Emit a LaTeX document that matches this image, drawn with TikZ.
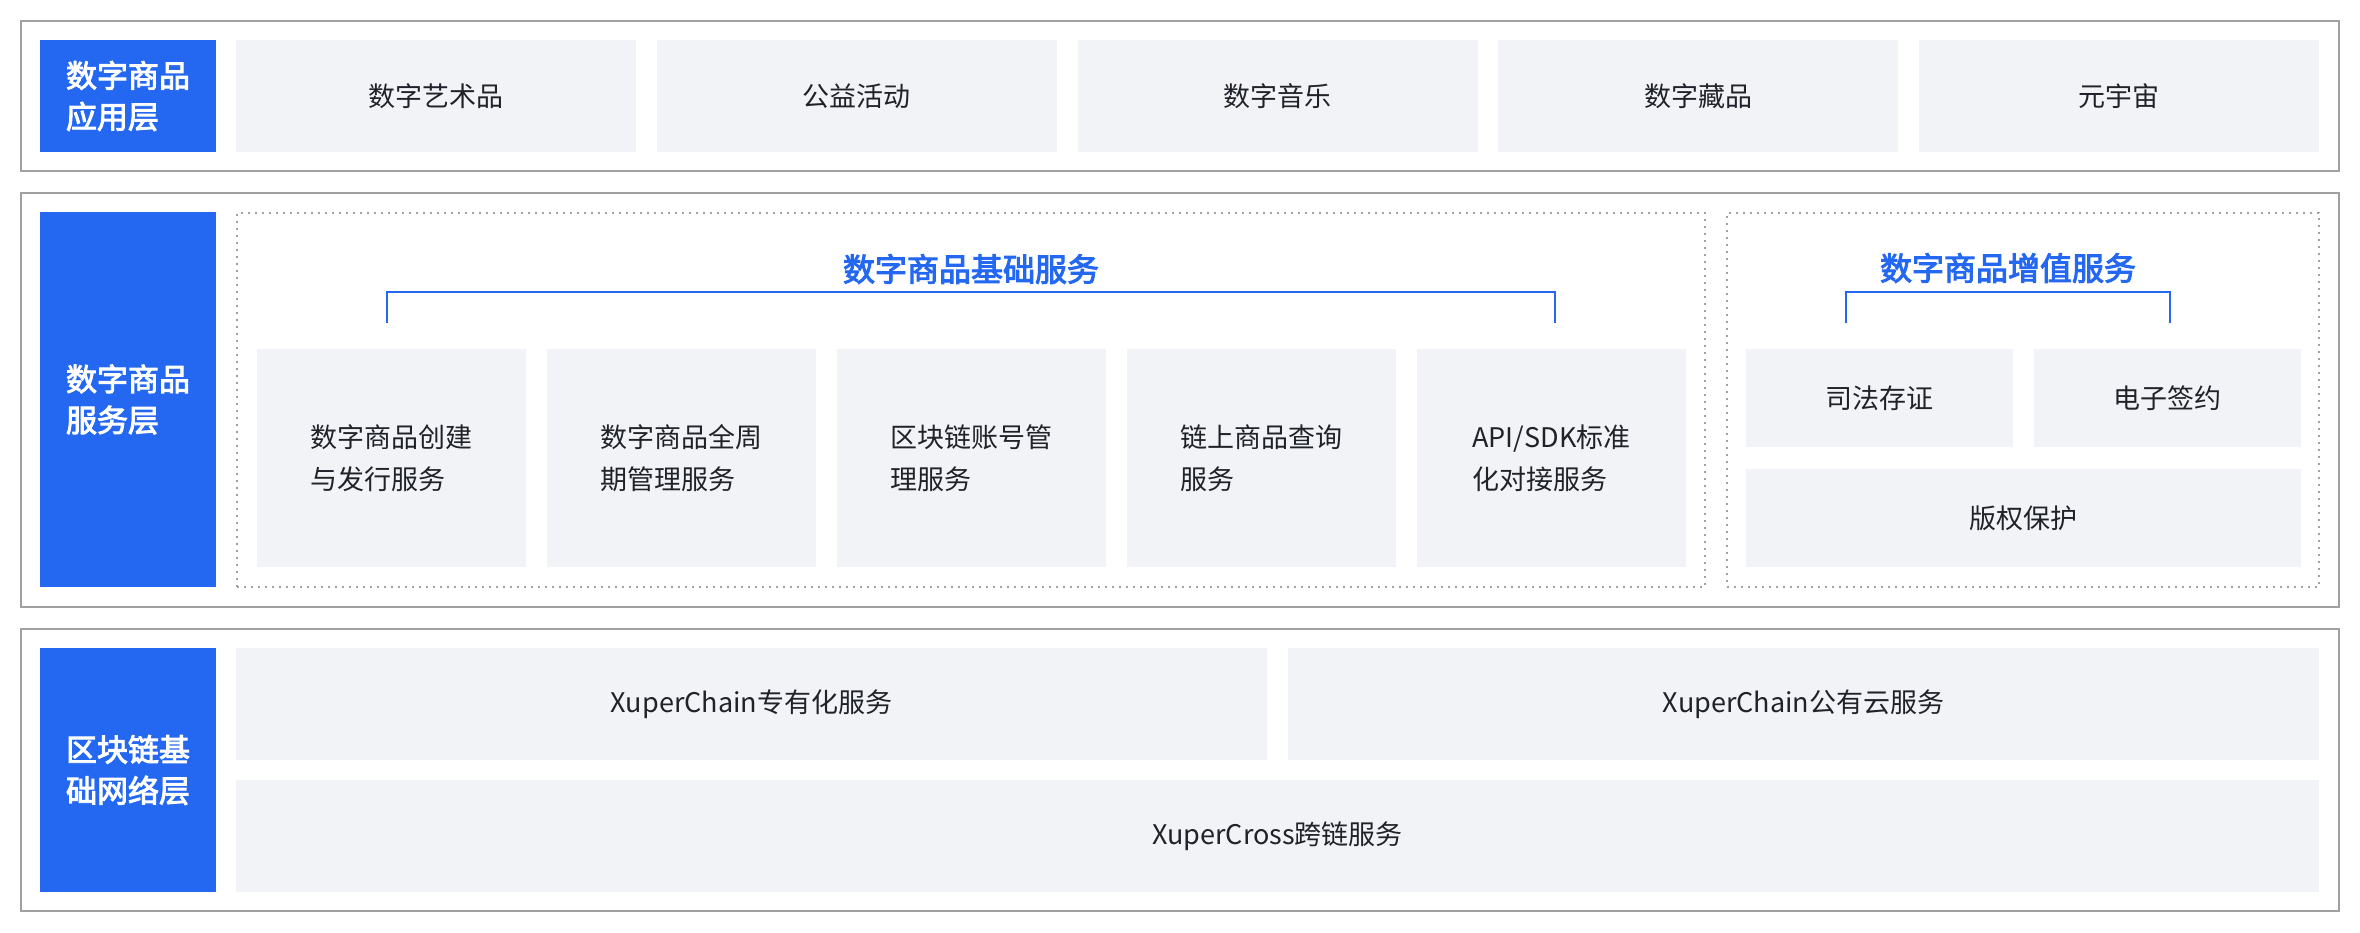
\documentclass[tikz,border=0pt]{standalone}
\usepackage{fontspec}
\setmainfont{Noto Sans CJK SC}
\newfontfamily\medfont[FakeBold=3]{Noto Sans CJK SC}
\definecolor{bblue}{HTML}{2468F2}
\definecolor{cellgray}{HTML}{F2F3F7}
\definecolor{framegray}{HTML}{A0A0A0}
\definecolor{dotgray}{HTML}{9CA0A8}
\definecolor{txt}{HTML}{1F2329}
\newcommand{\lblfont}{\fontsize{31pt}{41pt}\selectfont\medfont}
\newcommand{\cellfont}{\fontsize{27pt}{42pt}\selectfont}
\newcommand{\ttlfont}{\fontsize{32pt}{40pt}\selectfont\medfont}
\begin{document}
\begin{tikzpicture}[x=1pt,y=-1pt,
  outerframe/.style={draw=framegray, line width=2pt, inner sep=0pt, outer sep=0pt, anchor=north west},
  layerlbl/.style={fill=bblue, text=white, font=\lblfont, align=left, inner sep=0pt, outer sep=0pt, anchor=north west},
  cell/.style={fill=cellgray, text=txt, font=\cellfont, align=left, inner sep=0pt, outer sep=0pt, anchor=north west},
  dotbox/.style={draw=dotgray, line width=2pt, dash pattern=on 2pt off 5pt, inner sep=0pt, outer sep=0pt, anchor=north west},
  btitle/.style={text=bblue, font=\ttlfont, inner sep=0pt},
  bracketline/.style={draw=bblue, line width=2.5pt}
]
\useasboundingbox[fill=white] (0,0) rectangle (2360,932);

% outer frames
\node[outerframe, minimum width=2318pt, minimum height=150pt] (f1) at (21,21) {};
\node[outerframe, minimum width=2318pt, minimum height=414pt] (f2) at (21,193) {};
\node[outerframe, minimum width=2318pt, minimum height=282pt] (f3) at (21,629) {};

% layer labels
\node[layerlbl, minimum width=176pt, minimum height=112pt] (l1) at (40,40) {数字商品\\应用层};
\node[layerlbl, minimum width=176pt, minimum height=375pt] (l2) at (40,212) {数字商品\\服务层};
\node[layerlbl, minimum width=176pt, minimum height=244pt] (l3) at (40,648) {区块链基\\础网络层};

% application layer
\node[cell, minimum width=400pt, minimum height=112pt] (a1) at (236,40) {数字艺术品};
\node[cell, minimum width=400pt, minimum height=112pt] (a2) at (656.75,40) {公益活动};
\node[cell, minimum width=400pt, minimum height=112pt] (a3) at (1077.5,40) {数字音乐};
\node[cell, minimum width=400pt, minimum height=112pt] (a4) at (1498.25,40) {数字藏品};
\node[cell, minimum width=400pt, minimum height=112pt] (a5) at (1919,40) {元宇宙};

% service layer: dotted groups
\node[dotbox, minimum width=1468pt, minimum height=374pt] (d1) at (237,213) {};
\node[dotbox, minimum width=592pt, minimum height=374pt] (d2) at (1727,213) {};

\node[btitle] (t1) at (971,269) {数字商品基础服务};
\node[btitle] (t2) at (2008,268) {数字商品增值服务};

\coordinate (b1l) at (387,323);
\coordinate (b1r) at (1555,323);
\coordinate (b2l) at (1846,323);
\coordinate (b2r) at (2170,323);
\draw[bracketline] (b1l) -- ++(0,-31) -| (b1r);
\draw[bracketline] (b2l) -- ++(0,-31) -| (b2r);

\node[cell, minimum width=269pt, minimum height=218pt] (s1) at (257,349) {数字商品创建\\与发行服务};
\node[cell, minimum width=269pt, minimum height=218pt] (s2) at (547,349) {数字商品全周\\期管理服务};
\node[cell, minimum width=269pt, minimum height=218pt] (s3) at (837,349) {区块链账号管\\理服务};
\node[cell, minimum width=269pt, minimum height=218pt] (s4) at (1127,349) {链上商品查询\\服务};
\node[cell, minimum width=269pt, minimum height=218pt] (s5) at (1417,349) {API/SDK标准\\化对接服务};

\node[cell, minimum width=267pt, minimum height=98pt] (v1) at (1746,349) {司法存证};
\node[cell, minimum width=267pt, minimum height=98pt] (v2) at (2034,349) {电子签约};
\node[cell, minimum width=555pt, minimum height=98pt] (v3) at (1746,469) {版权保护};

% base layer
\node[cell, minimum width=1031pt, minimum height=112pt] (n1) at (236,648) {XuperChain专有化服务};
\node[cell, minimum width=1031pt, minimum height=112pt] (n2) at (1288,648) {XuperChain公有云服务};
\node[cell, minimum width=2083pt, minimum height=112pt] (n3) at (236,780) {XuperCross跨链服务};
\end{tikzpicture}
\end{document}
